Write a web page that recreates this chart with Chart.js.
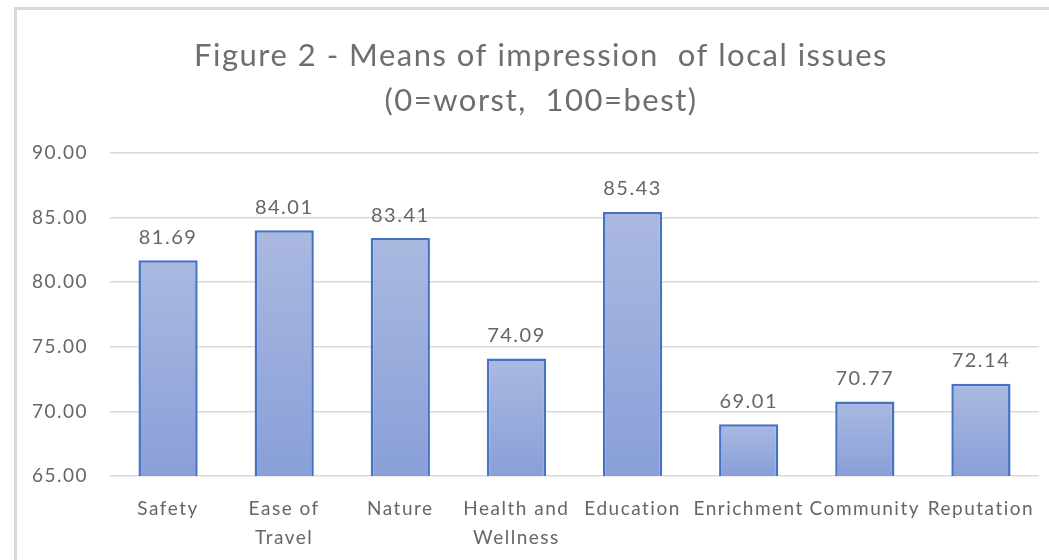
<!DOCTYPE html>
<html>
<head>
<meta charset="utf-8">
<script src="https://cdn.jsdelivr.net/npm/chart.js@4/dist/chart.umd.min.js"></script>
<style>
  html, body { margin: 0; padding: 0; background: #fff; }
  #wrap { width: 1049px; height: 560px; position: relative; }
</style>
</head>
<body>
<div id="wrap"><canvas id="impressionChart"></canvas></div>
<script>
// chart data
const categories = ['Safety', ['Ease of', 'Travel'], 'Nature', ['Health and', 'Wellness'], 'Education', 'Enrichment', 'Community', 'Reputation'];
const means = [81.69, 84.01, 83.41, 74.09, 85.43, 69.01, 70.77, 72.14];
const yTicks = [65, 70, 75, 80, 85, 90];
const titleLines = ['Figure 2 - Means of impression  of local issues', '(0=worst,  100=best)'];

const textColor = '#666666';
const fontFamily = 'Lato, "Open Sans", sans-serif';

// Excel text is spaced out a little, so widen the canvas text
const spacingPlugin = {
    id: 'spacing',
    beforeUpdate(chart) { chart.ctx.letterSpacing = '1.5px'; },
    beforeDraw(chart) { chart.ctx.letterSpacing = '1.5px'; },
    // the original title sits a bit right of the page centre
    afterLayout(chart) {
        if (chart.titleBlock) chart.titleBlock.left = 43;
    }
};

// light gray frame round the chart, like the Excel chart border
const framePlugin = {
    id: 'frame',
    beforeDraw(chart) {
        const c = chart.ctx;
        c.save();
        c.strokeStyle = '#d9d9d9';
        c.lineWidth = 3;
        c.beginPath();
        c.moveTo(15.5, chart.height);
        c.lineTo(15.5, 8.5);
        c.lineTo(chart.width, 8.5);
        c.stroke();
        c.restore();
    }
};

// value labels above each bar
const valueLabels = {
    id: 'valueLabels',
    afterDatasetsDraw(chart) {
        const c = chart.ctx;
        const meta = chart.getDatasetMeta(0);
        c.save();
        c.fillStyle = textColor;
        c.font = '20px ' + fontFamily;
        c.textAlign = 'center';
        c.textBaseline = 'middle';
        meta.data.forEach(function(bar, i) {
            c.fillText(means[i].toFixed(2), bar.x, bar.y - 23);
        });
        c.restore();
    }
};

function barGradient(context) {
    const chart = context.chart;
    const area = chart.chartArea;
    if (!area || context.type !== 'data') return '#98abdb';
    const top = chart.scales.y.getPixelForValue(context.raw);
    const g = chart.ctx.createLinearGradient(0, top, 0, area.bottom);
    g.addColorStop(0, '#abb9e0');
    g.addColorStop(1, '#889fd8');
    return g;
}

function initializeImpressionChart() {
    const ctx = document.getElementById('impressionChart');
    if (!ctx) return;

    new Chart(ctx, {
        type: 'bar',
        data: {
            labels: categories,
            datasets: [{
                data: means,
                backgroundColor: barGradient,
                borderColor: '#4472c4',
                borderWidth: 2.5,
                borderSkipped: 'bottom',
                barPercentage: 0.51,
                categoryPercentage: 1
            }]
        },
        options: {
            responsive: true,
            maintainAspectRatio: false,
            animation: false,
            layout: {
                padding: { left: 0, right: 10, top: 24, bottom: 0 }
            },
            plugins: {
                legend: { display: false },
                tooltip: { enabled: false },
                title: {
                    display: true,
                    text: titleLines,
                    color: '#6e6e6e',
                    font: { family: fontFamily, size: 31, weight: 'normal', lineHeight: 1.45 },
                    padding: { top: 10, bottom: 29 }
                }
            },
            scales: {
                y: {
                    min: 65,
                    max: 90,
                    afterBuildTicks: function(axis) {
                        axis.ticks = yTicks.map(function(v) { return { value: v }; });
                    },
                    afterFit: function(axis) { axis.width = 110; },
                    border: { display: false },
                    grid: { color: '#d9d9d9', lineWidth: 1.5, drawTicks: false },
                    ticks: {
                        color: textColor,
                        padding: 22,
                        font: { family: fontFamily, size: 19 },
                        callback: function(value) {
                            return Number(value).toFixed(2);
                        }
                    }
                },
                x: {
                    afterFit: function(axis) { axis.height = 84; },
                    border: { display: false },
                    grid: { display: false },
                    ticks: {
                        color: textColor,
                        padding: 10,
                        maxRotation: 0,
                        autoSkip: false,
                        font: { family: fontFamily, size: 19, lineHeight: 1.53 }
                    }
                }
            }
        },
        plugins: [spacingPlugin, framePlugin, valueLabels]
    });
}

document.addEventListener('DOMContentLoaded', function() {
    initializeImpressionChart();
});
</script>
</body>
</html>
